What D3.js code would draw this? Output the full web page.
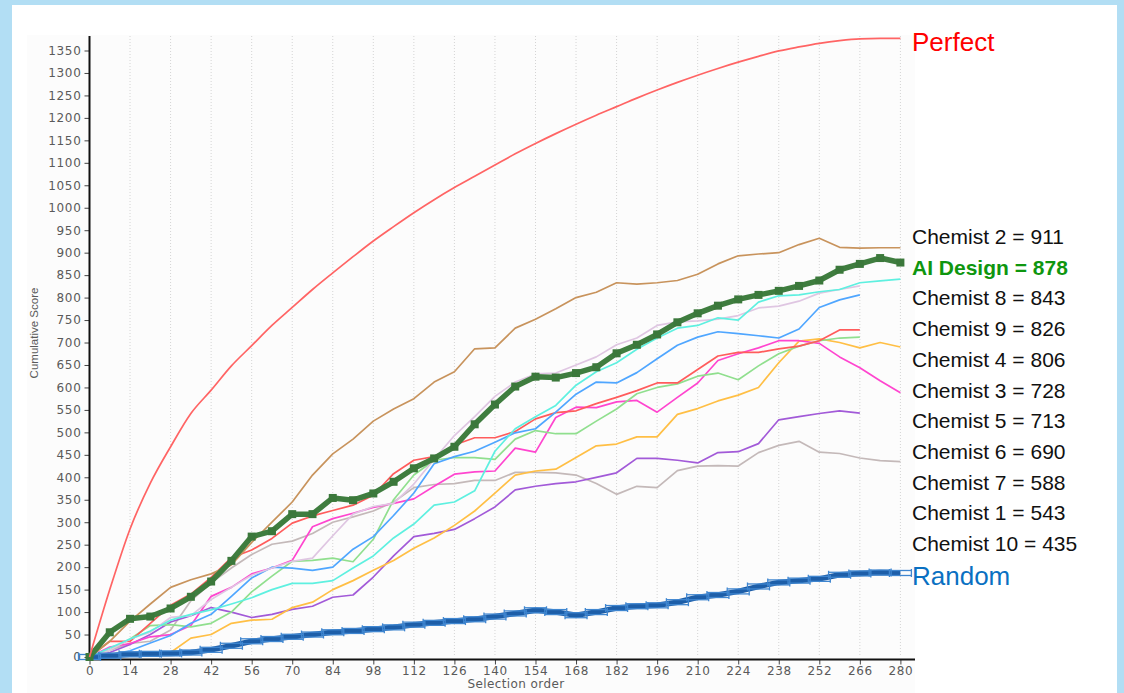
<!DOCTYPE html>
<html><head><meta charset="utf-8">
<script src="https://cdn.jsdelivr.net/npm/d3@7"></script>
<style>html,body{margin:0;padding:0;background:#b2def4;} svg{display:block;}</style>
</head><body><svg id="c" width="1124" height="693"></svg>
<script>
// ---------- data ----------
const selectionOrder = d3.range(0, 281, 7); // 0,7,...,280
const xTickValues = d3.range(0, 281, 14);
const yTickValues = d3.range(0, 1351, 50);

const perfect = [0,150,285,387,468,542,594,648,693,738,778,818,855,891,926,958,989,1018,1045,1070,1095,1120,1143,1165,1186,1206,1225,1244,1262,1279,1295,1310,1324,1337,1349,1358,1366,1372,1376,1377,1377];
const chemist2 = [0,35,80,118,155,172,185,205,255,300,345,405,452,485,525,552,575,612,635,686,688,732,752,775,800,812,833,830,833,838,852,875,893,897,900,918,932,912,910,911,911];
const aiDesign = [0,55,85,90,108,134,168,214,268,280,318,318,354,349,364,390,420,442,468,518,562,602,624,622,632,645,676,695,718,745,765,782,796,806,815,826,838,862,875,888,878];
const chemist8 = [0,20,40,58,82,95,105,118,132,150,164,164,170,198,225,265,296,338,345,370,458,508,535,560,605,635,655,685,710,732,738,755,750,790,804,806,813,818,833,837,841];
const chemist9 = [0,15,40,55,88,92,128,155,182,198,213,220,270,318,335,342,385,440,493,535,580,612,630,632,650,668,695,710,738,746,748,752,760,777,781,792,810,818,826];
const chemist4 = [0,5,14,31,48,75,95,135,176,200,198,193,200,240,268,315,365,430,446,458,478,499,508,545,585,612,610,633,664,694,712,724,720,715,710,730,778,795,806];
const chemist3 = [0,35,35,75,115,140,177,221,238,264,298,314,326,338,360,408,438,446,472,488,488,502,530,544,548,564,578,593,610,610,640,670,678,678,686,692,704,728,728];
const chemist5 = [0,15,40,70,72,67,75,100,145,180,213,215,220,212,262,350,405,438,444,444,440,485,504,497,497,525,552,586,600,608,625,632,617,648,675,692,704,710,712];
const chemist6 = [0,2,4,5,10,42,50,75,82,84,110,122,150,170,193,215,242,265,293,325,365,405,414,418,444,470,474,490,490,540,553,570,583,600,655,703,708,700,688,700,690];
const chemist7 = [0,22,30,45,50,70,135,155,185,198,215,290,308,320,333,342,352,380,407,412,414,465,456,533,556,555,568,571,545,578,610,660,675,688,704,704,698,668,644,615,588];
const chemist1 = [0,10,28,50,78,92,110,100,88,95,106,113,133,138,178,225,268,275,284,308,334,372,380,386,390,400,410,442,442,438,432,455,457,475,528,535,542,548,543];
const chemist10 = [0,15,30,35,60,125,165,198,228,251,258,275,300,312,325,345,377,384,386,393,393,411,411,410,405,386,362,380,377,415,425,426,425,455,471,480,456,453,443,437,435];
const random = [0,3,6,7,8,10,16,25,35,40,45,50,55,58,62,66,72,76,80,84,90,97,104,100,93,100,109,113,115,122,133,138,146,157,166,170,174,183,186,188,187];

const legendLabels = ["Chemist 2 = 911","AI Design = 878","Chemist 8 = 843","Chemist 9 = 826","Chemist 4 = 806","Chemist 3 = 728","Chemist 5 = 713","Chemist 6 = 690","Chemist 7 = 588","Chemist 1 = 543","Chemist 10 = 435"];

// ---------- drawing ----------
const svg = d3.select("#c");
svg.append("rect").attr("x",12).attr("y",5).attr("width",1105).attr("height",700).attr("fill","#ffffff");
svg.append("rect").attr("x",27).attr("y",35).attr("width",888).attr("height",660).attr("fill","#fcfcfc");

const x = d3.scaleLinear().domain([0,280]).range([89.5,900.4]);
const y = d3.scaleLinear().domain([0,1350]).range([657,50.5]);

// grid
svg.append("g").selectAll("line").data(xTickValues.filter(d=>d>0)).join("line")
  .attr("x1",d=>x(d)).attr("x2",d=>x(d)).attr("y1",36).attr("y2",657)
  .attr("stroke","#d4d4d4").attr("stroke-width",1).attr("stroke-dasharray","1,2");

// axes
const tickFont = "'DejaVu Sans', sans-serif";
const yAxis = d3.axisLeft(y).tickValues(yTickValues).tickFormat(d3.format("d")).tickSize(5).tickSizeOuter(0).tickPadding(3);
const gy = svg.append("g").attr("transform","translate(89.5,0)").call(yAxis);
gy.select(".domain").remove();
gy.selectAll(".tick line").attr("stroke","#444");
gy.selectAll(".tick text").attr("font-family",tickFont).attr("font-size",12).attr("fill","#5a5a5a").attr("letter-spacing","0.7px");

const xAxis = d3.axisBottom(x).tickValues(xTickValues).tickFormat(d3.format("d")).tickSize(5).tickSizeOuter(0).tickPadding(2);
const gx = svg.append("g").attr("transform","translate(0,659.5)").call(xAxis);
gx.select(".domain").remove();
gx.selectAll(".tick line").attr("stroke","#444");
gx.selectAll(".tick text").attr("font-family",tickFont).attr("font-size",12).attr("fill","#5a5a5a").attr("letter-spacing","0.6px");

svg.append("line").attr("x1",89.5).attr("x2",89.5).attr("y1",36).attr("y2",660.5).attr("stroke","#111").attr("stroke-width",2);
svg.append("line").attr("x1",88.5).attr("x2",915).attr("y1",659.5).attr("y2",659.5).attr("stroke","#111").attr("stroke-width",2);

svg.append("text").attr("transform","translate(38,333) rotate(-90)").attr("text-anchor","middle")
  .attr("font-family","'Liberation Sans', Arial, sans-serif").attr("font-size",11.5).attr("fill","#5a5a5a").text("Cumulative Score");
svg.append("text").attr("x",516).attr("y",688).attr("text-anchor","middle")
  .attr("font-family",tickFont).attr("font-size",12).attr("letter-spacing","0.4px").attr("fill","#5a5a5a").text("Selection order");

const line = d3.line().x((d,i)=>x(selectionOrder[i])).y(d=>y(d));
const lineSmooth = d3.line().x((d,i)=>x(selectionOrder[i])).y(d=>y(d)).curve(d3.curveMonotoneX);

const thin = [
  [chemist10,"#c4b9b9"],[chemist1,"#a25ad8"],[chemist6,"#ffbf45"],[chemist7,"#ff45cf"],
  [chemist5,"#90df8e"],[chemist3,"#ff5c5c"],[chemist4,"#4fa6ff"],[chemist9,"#dfc6e2"],
  [chemist8,"#5ef0e0"],[chemist2,"#c8935c"]
];
thin.forEach(([data,color])=>{
  svg.append("path").attr("d",line(data)).attr("fill","none").attr("stroke",color).attr("stroke-width",1.7).attr("stroke-linejoin","round");
});

// random with error-bar texture
svg.append("path").attr("d",line(random)).attr("fill","none").attr("stroke","#1d5ea8").attr("stroke-width",5.5);
const rb = svg.append("g");
random.forEach((v,i)=>{
  const cx = x(selectionOrder[i]), cy = y(v);
  [-1,1].forEach(s=>{
    rb.append("line").attr("x1",cx-11).attr("x2",cx+11).attr("y1",cy+s*2.5).attr("y2",cy+s*2.5).attr("stroke","#3f86d0").attr("stroke-width",1.3);
  });
  rb.append("line").attr("x1",cx-11).attr("x2",cx-11).attr("y1",cy-4).attr("y2",cy+4).attr("stroke","#3f86d0").attr("stroke-width",1.3);
  rb.append("line").attr("x1",cx+11).attr("x2",cx+11).attr("y1",cy-4).attr("y2",cy+4).attr("stroke","#3f86d0").attr("stroke-width",1.3);
});

// AI design
svg.append("path").attr("d",line(aiDesign)).attr("fill","none").attr("stroke","#3f7d3f").attr("stroke-width",5.5).attr("stroke-linejoin","bevel");
svg.append("g").selectAll("rect").data(aiDesign).join("rect")
  .attr("x",(d,i)=>x(selectionOrder[i])-4).attr("y",d=>y(d)-4).attr("width",8).attr("height",8).attr("fill","#3b783b");

// perfect
svg.append("path").attr("d",lineSmooth(perfect)).attr("fill","none").attr("stroke","#ff6464").attr("stroke-width",1.7);

// legend text
const lf = "'Liberation Sans', Arial, sans-serif";
svg.append("text").attr("x",912).attr("y",51).attr("font-family",lf).attr("font-size",26).attr("fill","#ff0000").text("Perfect");
svg.append("g").selectAll("text").data(legendLabels).join("text")
  .attr("x",912).attr("y",(d,i)=>244+i*30.7)
  .attr("font-family",lf).attr("font-size",21)
  .attr("font-weight",(d,i)=>i===1?"bold":"normal")
  .attr("fill",(d,i)=>i===1?"#0f960f":"#111111").text(d=>d);
svg.append("text").attr("x",912).attr("y",585).attr("font-family",lf).attr("font-size",26).attr("fill","#0a70c2").text("Random");
</script></body></html>
